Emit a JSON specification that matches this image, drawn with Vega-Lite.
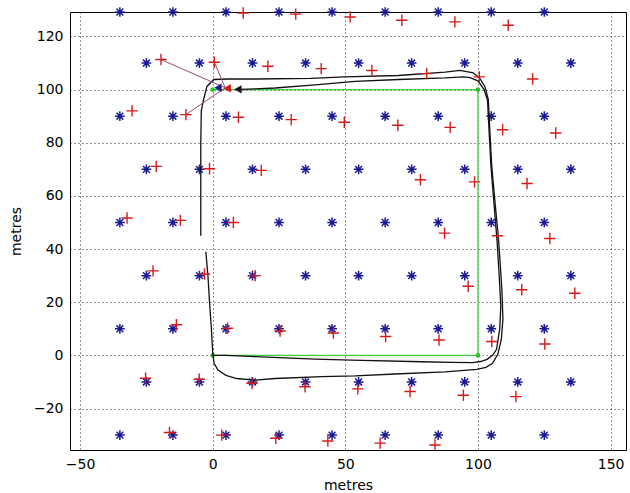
{
  "$schema": "https://vega.github.io/schema/vega-lite/v6.json",
  "width": 556,
  "height": 438,
  "autosize": {"type": "none"},
  "padding": {"left": 70, "top": 12, "right": 4, "bottom": 43},
  "background": "white",
  "config": {
    "view": {"stroke": "black", "strokeWidth": 1},
    "font": "DejaVu Sans",
    "axis": {
      "grid": true, "gridColor": "black", "gridDash": [1, 3], "gridWidth": 1, "gridOpacity": 0.85,
      "domain": false, "ticks": false,
      "labelFont": "DejaVu Sans", "labelFontSize": 14, "labelColor": "black",
      "titleFont": "DejaVu Sans", "titleFontSize": 14, "titleFontWeight": "normal", "titleColor": "black"
    }
  },
  "datasets": {
    "landmarks": [
      {"x": -35, "y": 129.2}, {"x": -15, "y": 129.2}, {"x": 5, "y": 129.2}, {"x": 25, "y": 129.2}, {"x": 45, "y": 129.2}, {"x": 65, "y": 129.2}, {"x": 85, "y": 129.2}, {"x": 105, "y": 129.2}, {"x": 125, "y": 129.2},
      {"x": -25, "y": 110}, {"x": -5, "y": 110}, {"x": 15, "y": 110}, {"x": 35, "y": 110}, {"x": 55, "y": 110}, {"x": 75, "y": 110}, {"x": 95, "y": 110}, {"x": 115, "y": 110}, {"x": 135, "y": 110},
      {"x": -35, "y": 90}, {"x": -15, "y": 90}, {"x": 5, "y": 90}, {"x": 25, "y": 90}, {"x": 45, "y": 90}, {"x": 65, "y": 90}, {"x": 85, "y": 90}, {"x": 105, "y": 90}, {"x": 125, "y": 90},
      {"x": -25, "y": 70}, {"x": -5, "y": 70}, {"x": 15, "y": 70}, {"x": 35, "y": 70}, {"x": 55, "y": 70}, {"x": 75, "y": 70}, {"x": 95, "y": 70}, {"x": 115, "y": 70}, {"x": 135, "y": 70},
      {"x": -35, "y": 50}, {"x": -15, "y": 50}, {"x": 5, "y": 50}, {"x": 25, "y": 50}, {"x": 45, "y": 50}, {"x": 65, "y": 50}, {"x": 85, "y": 50}, {"x": 105, "y": 50}, {"x": 125, "y": 50},
      {"x": -25, "y": 30}, {"x": -5, "y": 30}, {"x": 15, "y": 30}, {"x": 35, "y": 30}, {"x": 55, "y": 30}, {"x": 75, "y": 30}, {"x": 95, "y": 30}, {"x": 115, "y": 30}, {"x": 135, "y": 30},
      {"x": -35, "y": 10}, {"x": -15, "y": 10}, {"x": 5, "y": 10}, {"x": 25, "y": 10}, {"x": 45, "y": 10}, {"x": 65, "y": 10}, {"x": 85, "y": 10}, {"x": 105, "y": 10}, {"x": 125, "y": 10},
      {"x": -25, "y": -10}, {"x": -5, "y": -10}, {"x": 15, "y": -10}, {"x": 35, "y": -10}, {"x": 55, "y": -10}, {"x": 75, "y": -10}, {"x": 95, "y": -10}, {"x": 115, "y": -10}, {"x": 135, "y": -10},
      {"x": -35, "y": -30}, {"x": -15, "y": -30}, {"x": 5, "y": -30}, {"x": 25, "y": -30}, {"x": 45, "y": -30}, {"x": 65, "y": -30}, {"x": 85, "y": -30}, {"x": 105, "y": -30}, {"x": 125, "y": -30}
    ],
    "estimates": [
      {"x": 11.5, "y": 128.8}, {"x": 31.3, "y": 128.4}, {"x": 51.8, "y": 127.3}, {"x": 71.3, "y": 126.1}, {"x": 91.3, "y": 125.5}, {"x": 111.4, "y": 124.2},
      {"x": -19.5, "y": 111.3}, {"x": 0.6, "y": 110.3}, {"x": 20.8, "y": 108.8}, {"x": 40.9, "y": 107.9}, {"x": 60, "y": 107.2}, {"x": 80.7, "y": 106}, {"x": 100.5, "y": 104.8}, {"x": 120.6, "y": 104},
      {"x": -30.4, "y": 92}, {"x": -10.1, "y": 90.6}, {"x": 9.7, "y": 89.6}, {"x": 29.6, "y": 88.7}, {"x": 49.6, "y": 87.7}, {"x": 69.8, "y": 86.6}, {"x": 89.5, "y": 85.8}, {"x": 109.3, "y": 84.9}, {"x": 129.3, "y": 83.7},
      {"x": -21.3, "y": 71.1}, {"x": -1.2, "y": 70.2}, {"x": 18.3, "y": 69.6}, {"x": 78.3, "y": 66.1}, {"x": 98.7, "y": 65.3}, {"x": 118.5, "y": 64.7},
      {"x": -32.3, "y": 51.7}, {"x": -12.2, "y": 50.8}, {"x": 7.8, "y": 50}, {"x": 87.4, "y": 46}, {"x": 107.4, "y": 45}, {"x": 127.1, "y": 44},
      {"x": -22.5, "y": 31.8}, {"x": -3.1, "y": 30.6}, {"x": 16, "y": 30}, {"x": 96.3, "y": 26}, {"x": 116.5, "y": 24.7}, {"x": 136.5, "y": 23.4},
      {"x": -13.7, "y": 11.5}, {"x": 5.6, "y": 10.2}, {"x": 25.4, "y": 9.2}, {"x": 45.5, "y": 8.4}, {"x": 65.2, "y": 7.1}, {"x": 85.3, "y": 5.8}, {"x": 105.2, "y": 5.2}, {"x": 125.2, "y": 4.3},
      {"x": -25.3, "y": -8.6}, {"x": -5.1, "y": -9}, {"x": 14.8, "y": -10.5}, {"x": 34.8, "y": -11.8}, {"x": 54.7, "y": -12.6}, {"x": 74.4, "y": -13.6}, {"x": 94.5, "y": -15}, {"x": 114.3, "y": -15.5},
      {"x": -16.3, "y": -29}, {"x": 3.4, "y": -30}, {"x": 23.8, "y": -31.2}, {"x": 43.4, "y": -32.2}, {"x": 63.1, "y": -33}, {"x": 83.8, "y": -33.7}
    ],
    "paths": [
      {"path": "A", "i": 1, "x": -2.6, "y": 39}, {"path": "A", "i": 2, "x": -1.8, "y": 30}, {"path": "A", "i": 3, "x": -1.2, "y": 20}, {"path": "A", "i": 4, "x": -0.5, "y": 10},
      {"path": "A", "i": 5, "x": 0, "y": 1}, {"path": "A", "i": 6, "x": 0.5, "y": -3}, {"path": "A", "i": 7, "x": 2, "y": -5.5}, {"path": "A", "i": 8, "x": 5, "y": -7.5},
      {"path": "A", "i": 9, "x": 9, "y": -8.7}, {"path": "A", "i": 10, "x": 16, "y": -9.3}, {"path": "A", "i": 11, "x": 23.5, "y": -8.7}, {"path": "A", "i": 12, "x": 41, "y": -8},
      {"path": "A", "i": 13, "x": 53.7, "y": -7.7}, {"path": "A", "i": 14, "x": 68.7, "y": -7}, {"path": "A", "i": 15, "x": 87.6, "y": -6.2}, {"path": "A", "i": 16, "x": 99.6, "y": -5.3},
      {"path": "A", "i": 17, "x": 103, "y": -4.5}, {"path": "A", "i": 18, "x": 105.5, "y": -3}, {"path": "A", "i": 19, "x": 107.5, "y": 0.5}, {"path": "A", "i": 20, "x": 108.8, "y": 6},
      {"path": "A", "i": 21, "x": 109.4, "y": 13.6}, {"path": "A", "i": 22, "x": 109, "y": 25}, {"path": "A", "i": 23, "x": 107.8, "y": 43}, {"path": "A", "i": 24, "x": 106.2, "y": 60},
      {"path": "A", "i": 25, "x": 105.2, "y": 71}, {"path": "A", "i": 26, "x": 104.5, "y": 84}, {"path": "A", "i": 27, "x": 103.9, "y": 96.2}, {"path": "A", "i": 28, "x": 102.6, "y": 101.2},
      {"path": "A", "i": 29, "x": 100.5, "y": 104.5}, {"path": "A", "i": 30, "x": 98.2, "y": 106.3}, {"path": "A", "i": 31, "x": 93.2, "y": 107.2}, {"path": "A", "i": 32, "x": 87.6, "y": 106.6},
      {"path": "A", "i": 33, "x": 70, "y": 105.3}, {"path": "A", "i": 34, "x": 49.9, "y": 104.8}, {"path": "A", "i": 35, "x": 36.8, "y": 104.2}, {"path": "A", "i": 36, "x": 16, "y": 104},
      {"path": "A", "i": 37, "x": 5.6, "y": 104}, {"path": "A", "i": 38, "x": 0.4, "y": 103.8}, {"path": "A", "i": 39, "x": -2.2, "y": 101.2}, {"path": "A", "i": 40, "x": -3.5, "y": 96},
      {"path": "A", "i": 41, "x": -4.3, "y": 92}, {"path": "A", "i": 42, "x": -4.5, "y": 80}, {"path": "A", "i": 43, "x": -4.5, "y": 45},
      {"path": "B", "i": 1, "x": 0, "y": 0}, {"path": "B", "i": 2, "x": 5, "y": 0}, {"path": "B", "i": 3, "x": 16, "y": -0.5}, {"path": "B", "i": 4, "x": 38.6, "y": -1.4},
      {"path": "B", "i": 5, "x": 52.3, "y": -1.8}, {"path": "B", "i": 6, "x": 78.8, "y": -2.4}, {"path": "B", "i": 7, "x": 90, "y": -2.6}, {"path": "B", "i": 8, "x": 98, "y": -2.7},
      {"path": "B", "i": 9, "x": 101, "y": -2.3}, {"path": "B", "i": 10, "x": 103.4, "y": -1.5}, {"path": "B", "i": 11, "x": 105.5, "y": 0}, {"path": "B", "i": 12, "x": 107, "y": 2.3},
      {"path": "B", "i": 13, "x": 108.2, "y": 10}, {"path": "B", "i": 14, "x": 108.6, "y": 18.5}, {"path": "B", "i": 15, "x": 108, "y": 30}, {"path": "B", "i": 16, "x": 107.2, "y": 43},
      {"path": "B", "i": 17, "x": 105.8, "y": 60}, {"path": "B", "i": 18, "x": 104.9, "y": 71}, {"path": "B", "i": 19, "x": 104.2, "y": 84}, {"path": "B", "i": 20, "x": 103.6, "y": 96},
      {"path": "B", "i": 21, "x": 102.3, "y": 100}, {"path": "B", "i": 22, "x": 100, "y": 103.3}, {"path": "B", "i": 23, "x": 97, "y": 104.5}, {"path": "B", "i": 24, "x": 94.5, "y": 104.8},
      {"path": "B", "i": 25, "x": 87.6, "y": 104.4}, {"path": "B", "i": 26, "x": 70, "y": 103.8}, {"path": "B", "i": 27, "x": 53.7, "y": 103.1}, {"path": "B", "i": 28, "x": 38.6, "y": 101.8},
      {"path": "B", "i": 29, "x": 23.5, "y": 100.6}, {"path": "B", "i": 30, "x": 16, "y": 100.3}, {"path": "B", "i": 31, "x": 10.5, "y": 100.1}
    ],
    "waypoints": [
      {"i": 1, "x": 0, "y": 100}, {"i": 2, "x": 100, "y": 100}, {"i": 3, "x": 100, "y": 0}, {"i": 4, "x": 0, "y": 0}
    ],
    "observations": [
      {"id": 1, "x": 4.7, "y": 100.7}, {"id": 1, "x": -19.5, "y": 111.3},
      {"id": 2, "x": 4.7, "y": 100.7}, {"id": 2, "x": 0.6, "y": 110.3},
      {"id": 3, "x": 4.7, "y": 100.7}, {"id": 3, "x": -10.1, "y": 90.6}
    ],
    "vehicle": [
      {"kind": "true", "x": 2, "y": 100.7},
      {"kind": "estimate", "x": 5.5, "y": 100.5},
      {"kind": "path end", "x": 9.5, "y": 100.1}
    ]
  },
  "encoding": {
    "x": {
      "field": "x", "type": "quantitative",
      "scale": {"domain": [-53.8, 155.8], "nice": false, "zero": false},
      "axis": {"values": [-50, 0, 50, 100, 150], "title": "metres", "labelPadding": 7, "titlePadding": 7}
    },
    "y": {
      "field": "y", "type": "quantitative",
      "scale": {"domain": [-35.6, 129.2], "nice": false, "zero": false},
      "axis": {"values": [-20, 0, 20, 40, 60, 80, 100, 120], "title": "metres", "labelPadding": 7, "titlePadding": 10}
    }
  },
  "layer": [
    {
      "data": {"name": "waypoints"},
      "mark": {"type": "line", "color": "#3fd03f", "strokeWidth": 1.3},
      "encoding": {"order": {"field": "i", "type": "quantitative"}}
    },
    {
      "data": {"name": "waypoints"},
      "mark": {"type": "point", "shape": "circle", "filled": true, "color": "#2fbf2f", "size": 22, "opacity": 1}
    },
    {
      "data": {"name": "landmarks"},
      "mark": {"type": "point", "shape": "M-1,0L1,0M0,-1L0,1M-0.7,-0.7L0.7,0.7M-0.7,0.7L0.7,-0.7", "filled": false, "color": "#1a1a95", "strokeWidth": 1.5, "size": 95, "opacity": 1}
    },
    {
      "data": {"name": "paths"},
      "mark": {"type": "line", "color": "#111111", "strokeWidth": 1.3},
      "encoding": {"detail": {"field": "path", "type": "nominal"}, "order": {"field": "i", "type": "quantitative"}}
    },
    {
      "data": {"name": "observations"},
      "mark": {"type": "line", "color": "#9a4a72", "strokeWidth": 1},
      "encoding": {"detail": {"field": "id", "type": "nominal"}}
    },
    {
      "data": {"name": "estimates"},
      "mark": {"type": "point", "shape": "M-1,0L1,0M0,-1L0,1", "filled": false, "color": "#d41a1a", "strokeWidth": 1.4, "size": 130, "opacity": 1}
    },
    {
      "data": {"name": "vehicle"},
      "mark": {"type": "point", "shape": "triangle-left", "filled": true, "size": 70, "opacity": 1},
      "encoding": {
        "color": {"field": "kind", "type": "nominal", "scale": {"domain": ["true", "estimate", "path end"], "range": ["#1a1a95", "#d41a1a", "#111111"]}, "legend": null}
      }
    }
  ]
}
